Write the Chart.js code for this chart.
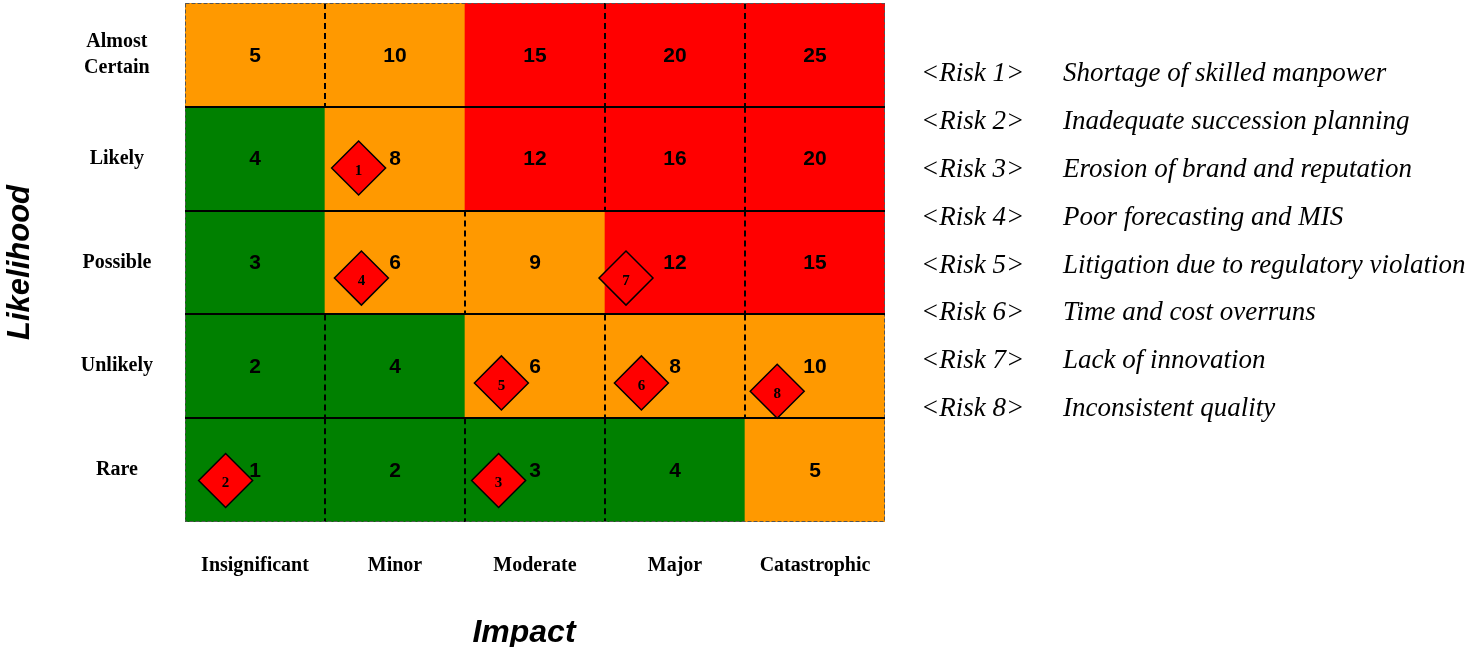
<!DOCTYPE html>
<html>
<head>
<meta charset="utf-8">
<title>Risk Matrix</title>
<script src="https://cdn.jsdelivr.net/npm/chart.js@4.4.1/dist/chart.umd.min.js"></script>
<style>
  html, body { margin: 0; padding: 0; background: #ffffff; }
  #wrap { position: relative; width: 1470px; height: 647px; }
</style>
</head>
<body>
<div id="wrap"><canvas id="riskChart" width="1470" height="647"></canvas></div>
<script>
// Axis categories
const impactLabels = ['Insignificant', 'Minor', 'Moderate', 'Major', 'Catastrophic'];
const likelihoodLabels = ['Rare', 'Unlikely', 'Possible', 'Likely', ['Almost', 'Certain']];
const impactLevels = [1, 2, 3, 4, 5];
const likelihoodLevels = [1, 2, 3, 4, 5];

// Risk score of each cell, one list per likelihood row (columns follow impact)
const scoresRare          = [1, 2, 3, 4, 5];
const scoresUnlikely      = [2, 4, 6, 8, 10];
const scoresPossible      = [3, 6, 9, 12, 15];
const scoresLikely        = [4, 8, 12, 16, 20];
const scoresAlmostCertain = [5, 10, 15, 20, 25];

// Assessed risks placed on the matrix
const riskIds        = [1, 2, 3, 4, 5, 6, 7, 8];
const riskImpact     = [1.74, 0.79, 2.74, 1.76, 2.76, 3.76, 3.65, 4.73];
const riskLikelihood = [3.91, 0.90, 0.90, 2.85, 1.84, 1.84, 2.85, 1.76];
const riskTags  = ['<Risk 1>', '<Risk 2>', '<Risk 3>', '<Risk 4>', '<Risk 5>', '<Risk 6>', '<Risk 7>', '<Risk 8>'];
const riskNames = [
  'Shortage of skilled manpower',
  'Inadequate succession planning',
  'Erosion of brand and reputation',
  'Poor forecasting and MIS',
  'Litigation due to regulatory violation',
  'Time and cost overruns',
  'Lack of innovation',
  'Inconsistent quality'
];

const scoreRows = [scoresRare, scoresUnlikely, scoresPossible, scoresLikely, scoresAlmostCertain];

const GREEN = '#008000', ORANGE = '#FF9900', RED = '#FF0000';
function zoneColor(score) {
  if (score >= 12) return RED;
  if (score >= 5) return ORANGE;
  return GREEN;
}

// One floating-bar dataset per likelihood row: each bar fills one cell
const cellDatasets = likelihoodLevels.map((level, r) => ({
  type: 'bar',
  data: impactLevels.map(imp => ({ x: imp, y: [level - 0.5, level + 0.5] })),
  backgroundColor: scoreRows[r].map(zoneColor),
  borderWidth: 0,
  barPercentage: 1,
  categoryPercentage: 1,
  grouped: false,
  order: 2
}));

const riskDataset = {
  type: 'scatter',
  data: riskIds.map((id, i) => ({ x: riskImpact[i], y: riskLikelihood[i] })),
  pointStyle: 'rectRot',
  pointRadius: 27,
  pointHoverRadius: 27,
  backgroundColor: RED,
  borderColor: '#000000',
  borderWidth: 1.5,
  clip: false,
  order: 1
};

// The Impact caption sits a little left of the matrix centre
const IMPACT_TITLE_SHIFT = -11;

// Dashed separators, frame, cell scores, risk numbers and the risk list
const matrixDecor = {
  id: 'matrixDecor',
  beforeDraw(chart) {
    const s = chart.scales.x;
    s.left += IMPACT_TITLE_SHIFT;
    s.right += IMPACT_TITLE_SHIFT;
  },
  beforeDatasetsDraw(chart) {
    const s = chart.scales.x;
    s.left -= IMPACT_TITLE_SHIFT;
    s.right -= IMPACT_TITLE_SHIFT;
  },
  beforeDatasetDraw(chart, args) {
    if (args.meta.type !== 'scatter') return;
    const { ctx, scales: { x, y }, chartArea: a } = chart;
    ctx.save();
    ctx.strokeStyle = '#000000';
    ctx.lineWidth = 2;
    ctx.setLineDash([6, 4]);
    scoreRows.forEach((row, r) => {
      const level = likelihoodLevels[r];
      const top = y.getPixelForValue(level + 0.5);
      const bottom = y.getPixelForValue(level - 0.5);
      for (let j = 0; j < row.length - 1; j++) {
        if (zoneColor(row[j]) !== zoneColor(row[j + 1])) continue;
        const px = Math.round(x.getPixelForValue(impactLevels[j] + 0.5));
        ctx.beginPath();
        ctx.moveTo(px, top);
        ctx.lineTo(px, bottom);
        ctx.stroke();
      }
    });
    ctx.strokeStyle = '#555555';
    ctx.lineWidth = 1;
    ctx.setLineDash([4, 2]);
    ctx.strokeRect(a.left + 0.5, a.top + 0.5, a.width - 1, a.height - 1);
    ctx.restore();
  },
  afterDatasetsDraw(chart) {
    const { ctx, scales: { x, y } } = chart;
    ctx.save();
    ctx.fillStyle = '#000000';
    ctx.textAlign = 'center';
    ctx.textBaseline = 'middle';
    ctx.font = 'bold 21px "Liberation Sans", Arial, sans-serif';
    scoreRows.forEach((row, r) => {
      row.forEach((score, j) => {
        ctx.fillText(String(score), x.getPixelForValue(impactLevels[j]), y.getPixelForValue(likelihoodLevels[r]) + 1);
      });
    });
    const meta = chart.getDatasetMeta(chart.data.datasets.length - 1);
    ctx.font = 'bold 15px "Liberation Serif", "Times New Roman", serif';
    meta.data.forEach((pt, i) => {
      ctx.fillText(String(riskIds[i]), pt.x, pt.y + 3);
    });
    ctx.restore();
  },
  afterDraw(chart) {
    const { ctx, chartArea: a } = chart;
    ctx.save();
    ctx.fillStyle = '#000000';
    ctx.textAlign = 'left';
    ctx.textBaseline = 'middle';
    ctx.font = 'italic 27px "Liberation Serif", "Times New Roman", serif';
    const tagX = a.right + 36;
    const nameX = a.right + 178;
    riskTags.forEach((tag, i) => {
      const yy = 74 + i * 47.86;
      ctx.fillText(tag, tagX, yy);
      ctx.fillText(riskNames[i], nameX, yy);
    });
    ctx.restore();
  }
};

const serifBold = (size, lh) => ({ family: '"Liberation Serif", "Times New Roman", serif', size, weight: 'bold', lineHeight: lh });
const sansBoldItalic = size => ({ family: '"Liberation Sans", Arial, sans-serif', size, weight: 'bold', style: 'italic', lineHeight: 1 });

new Chart(document.getElementById('riskChart'), {
  type: 'bar',
  data: { datasets: [...cellDatasets, riskDataset] },
  options: {
    responsive: false,
    animation: false,
    events: [],
    layout: { autoPadding: false, padding: { left: 0, top: 3, right: 585, bottom: 0 } },
    plugins: { legend: { display: false }, tooltip: { enabled: false } },
    scales: {
      x: {
        type: 'linear',
        min: 0.5,
        max: 5.5,
        offset: false,
        grid: { display: false, drawTicks: false },
        border: { display: false },
        afterBuildTicks: s => { s.ticks = impactLevels.map(v => ({ value: v })); },
        afterFit: s => { s.height = 125; s.paddingLeft = 0; s.paddingRight = 0; },
        ticks: {
          autoSkip: false,
          maxRotation: 0,
          padding: 32,
          color: '#000000',
          font: serifBold(20, 1.2),
          callback: v => impactLabels[Math.round(v) - 1]
        },
        title: { display: true, text: 'Impact', color: '#000000', font: sansBoldItalic(32), padding: { top: 0, bottom: -2 } }
      },
      y: {
        type: 'linear',
        min: 0.5,
        max: 5.5,
        grid: {
          z: 1,
          lineWidth: 2,
          drawTicks: false,
          color: c => {
            const v = c.tick ? c.tick.value : 0;
            return (!Number.isInteger(v) && v > 1 && v < 5) ? '#000000' : 'rgba(0,0,0,0)';
          }
        },
        border: { display: false },
        afterBuildTicks: s => {
          const t = [];
          for (let v = 0.5; v <= 5.5; v += 0.5) t.push({ value: v });
          s.ticks = t;
        },
        afterFit: s => { s.width = 185; s.paddingTop = 0; s.paddingBottom = 0; },
        ticks: {
          autoSkip: false,
          crossAlign: 'center',
          padding: 32,
          color: '#000000',
          font: serifBold(20, 1.3),
          callback: v => Number.isInteger(v) ? likelihoodLabels[v - 1] : ''
        },
        title: { display: true, text: 'Likelihood', color: '#000000', font: sansBoldItalic(31), padding: { top: 5, bottom: 0 } }
      }
    }
  },
  plugins: [matrixDecor]
});
</script>
</body>
</html>
